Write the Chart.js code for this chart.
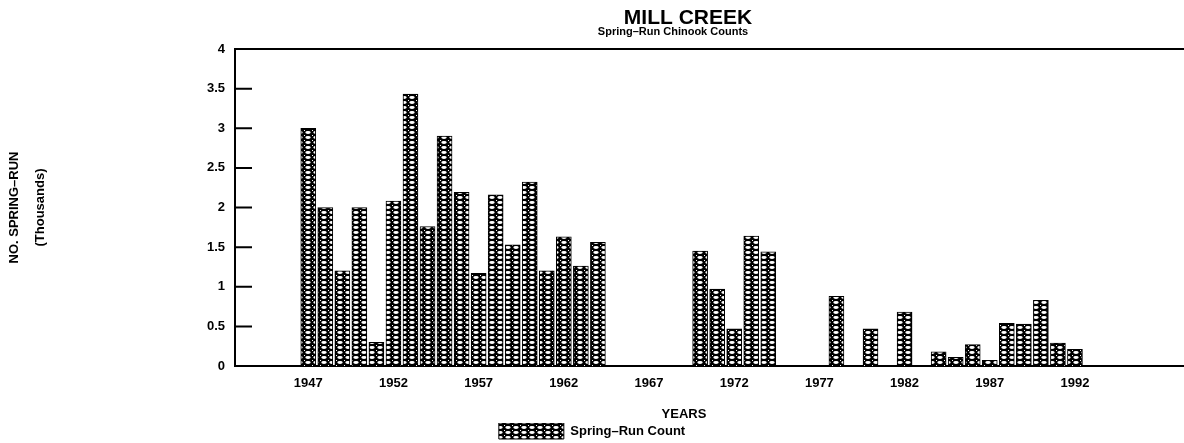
<!DOCTYPE html>
<html>
<head>
<meta charset="utf-8">
<title>Mill Creek Spring-Run Chinook Counts</title>
<script src="https://cdn.jsdelivr.net/npm/chart.js@4.4.1/dist/chart.umd.min.js"></script>
<style>
  body { margin: 0; background: #fff; }
  #wrap { width: 1184px; height: 443px; position: relative; }
</style>
</head>
<body>
<div id="wrap"><canvas id="mill-chart"></canvas></div>
<script>
// Years with a count (gaps = no survey)
const years = [
  1947, 1948, 1949, 1950, 1951, 1952, 1953, 1954, 1955, 1956,
  1957, 1958, 1959, 1960, 1961, 1962, 1963, 1964,
  1970, 1971, 1972, 1973, 1974,
  1978, 1980, 1982,
  1984, 1985, 1986, 1987, 1988, 1989, 1990, 1991, 1992
];

// Spring-run counts, thousands
const counts = [
  3.0, 2.0, 1.2, 2.0, 0.3, 2.08, 3.43, 1.76, 2.9, 2.19,
  1.17, 2.16, 1.53, 2.32, 1.2, 1.63, 1.26, 1.56,
  1.45, 0.97, 0.47, 1.64, 1.44,
  0.88, 0.47, 0.68,
  0.18, 0.11, 0.27, 0.07, 0.54, 0.53, 0.83, 0.29, 0.21
];

// x axis labels
const tickYears = [1947, 1952, 1957, 1962, 1967, 1972, 1977, 1982, 1987, 1992];

const FONT = '"Liberation Sans", Arial, sans-serif';

// black fill with little white ovals, like the old hatch
function makePattern() {
  const c = document.createElement('canvas');
  c.width = 8;
  c.height = 5;
  const g = c.getContext('2d');
  g.fillStyle = '#000';
  g.fillRect(0, 0, 8, 5);
  g.fillStyle = '#fff';
  g.beginPath();
  g.ellipse(4, 2.5, 2.7, 1.4, 0, 0, Math.PI * 2);
  g.fill();
  g.fillRect(0, 0, 1, 1);
  return g.createPattern(c, 'repeat');
}

const hatch = makePattern();

// top frame line, inward y ticks and the loose texts
const decor = {
  id: 'decor',
  afterDraw(chart) {
    const { ctx, chartArea: a, scales: { y } } = chart;
    ctx.save();
    ctx.strokeStyle = '#000';
    ctx.lineWidth = 2;
    ctx.beginPath();
    ctx.moveTo(a.left, a.top);
    ctx.lineTo(a.right, a.top);
    y.ticks.forEach((t, i) => {
      const py = y.getPixelForTick(i);
      ctx.moveTo(a.left, py);
      ctx.lineTo(a.left + 17, py);
    });
    ctx.stroke();

    ctx.fillStyle = '#000';
    ctx.textAlign = 'center';
    ctx.textBaseline = 'middle';
    ctx.font = 'bold 21px ' + FONT;
    ctx.fillText('MILL CREEK', 688, 18);
    ctx.font = 'bold 11px ' + FONT;
    ctx.fillText('Spring–Run Chinook Counts', 673, 32);
    ctx.font = 'bold 13px ' + FONT;
    ctx.fillText('YEARS', 684, 414);
    ctx.restore();
  }
};

new Chart(document.getElementById('mill-chart'), {
  type: 'bar',
  data: {
    datasets: [{
      label: 'Spring–Run Count',
      data: years.map((yr, i) => ({ x: yr, y: counts[i] })),
      backgroundColor: hatch,
      borderColor: '#000',
      borderWidth: 1,
      barThickness: 15
    }]
  },
  options: {
    responsive: true,
    maintainAspectRatio: false,
    animation: false,
    layout: { padding: { top: 49, left: 0, right: 0, bottom: -6 } },
    scales: {
      x: {
        type: 'linear',
        offset: false,
        min: 1942.7,
        max: 1998.4,
        afterBuildTicks: scale => {
          scale.ticks = tickYears.map(v => ({ value: v }));
        },
        afterFit: scale => { scale.height = 57; },
        grid: { display: false, drawTicks: false },
        border: { display: true, color: '#000', width: 2 },
        ticks: {
          autoSkip: false,
          maxRotation: 0,
          padding: 10,
          color: '#000',
          font: { family: FONT, size: 13, weight: 'bold' },
          callback: v => String(v)
        }
      },
      y: {
        min: 0,
        max: 4,
        afterFit: scale => { scale.width = 235; },
        grid: { display: false, drawTicks: false },
        border: { display: true, color: '#000', width: 2 },
        ticks: {
          stepSize: 0.5,
          padding: 10,
          color: '#000',
          font: { family: FONT, size: 13, weight: 'bold' },
          callback: v => String(+v.toFixed(1))
        },
        title: {
          display: true,
          text: ['NO. SPRING–RUN', '(Thousands)'],
          color: '#000',
          font: { family: FONT, size: 13, weight: 'bold', lineHeight: 2.0 },
          padding: { top: 1, bottom: 0 }
        }
      }
    },
    plugins: {
      legend: {
        position: 'bottom',
        labels: {
          boxWidth: 65,
          boxHeight: 16,
          padding: 0,
          color: '#000',
          font: { family: FONT, size: 13, weight: 'bold' }
        }
      },
      tooltip: { enabled: false }
    }
  },
  plugins: [decor]
});
</script>
</body>
</html>
